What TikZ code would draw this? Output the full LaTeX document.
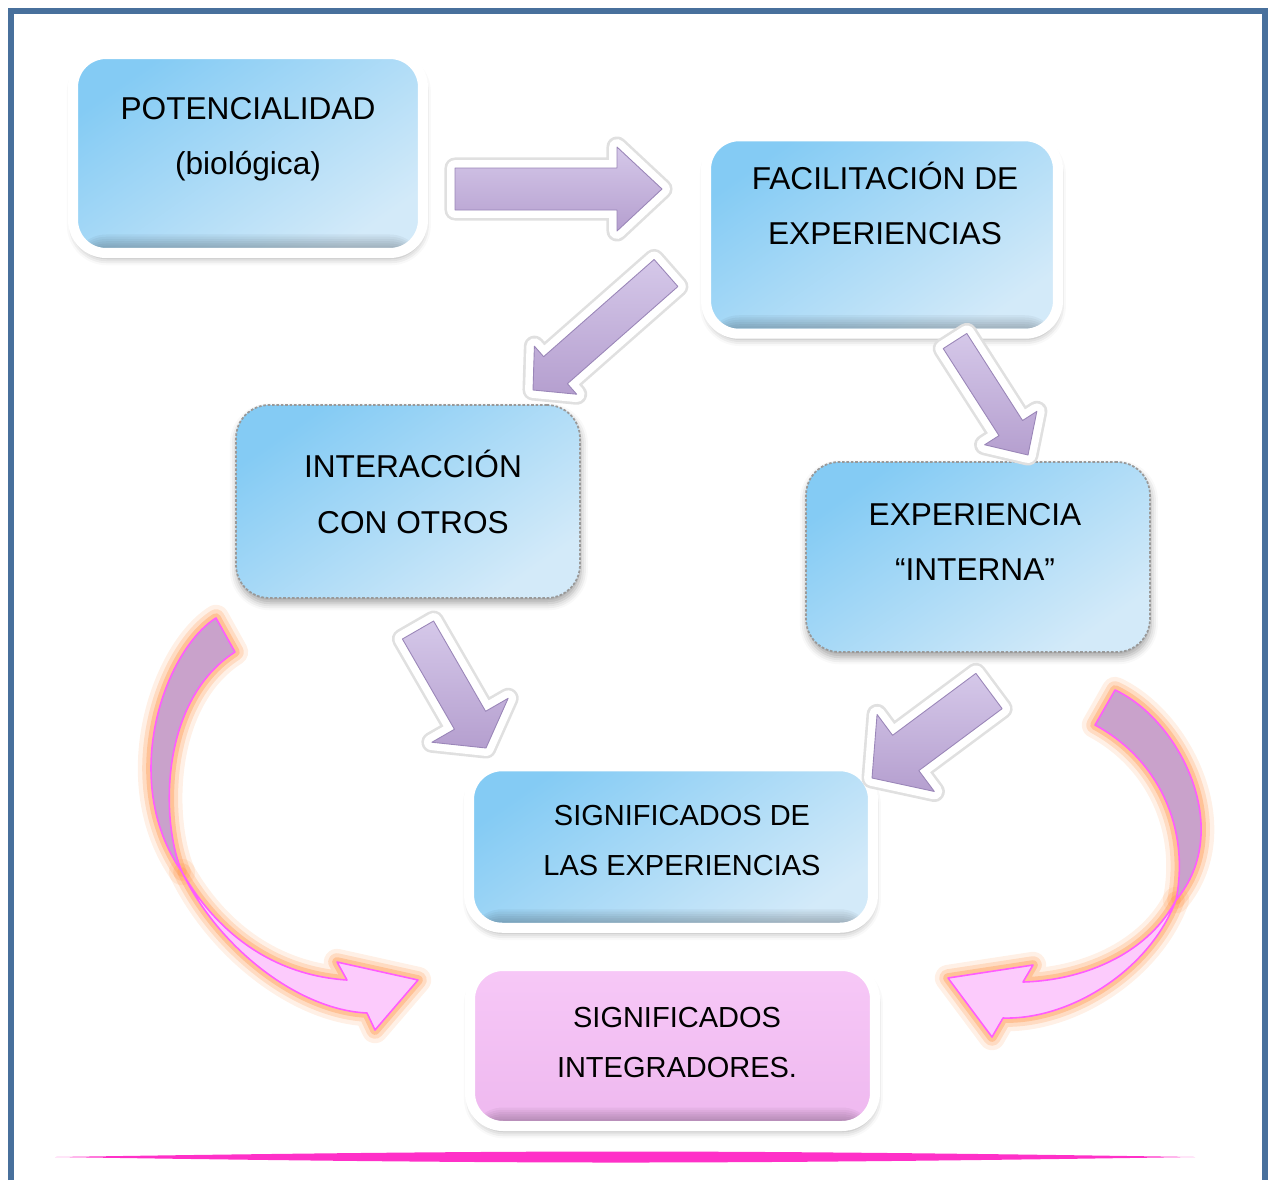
\documentclass[tikz,border=0pt]{standalone}
\usepackage{fontspec}
\setmainfont{Liberation Sans}
\usetikzlibrary{calc,shadows,shadows.blur}

\definecolor{frameblue}{HTML}{48709C}
\definecolor{boxtop}{HTML}{84CBF4}
\definecolor{boxbot}{HTML}{D3EAF9}
\definecolor{pinktop}{HTML}{F7C8F7}
\definecolor{pinkbot}{HTML}{EEB8EF}
\definecolor{lilactop}{HTML}{D5C8E9}
\definecolor{lilacbot}{HTML}{B59FCF}
\definecolor{lilacedge}{HTML}{9A86B8}
\definecolor{mauve}{HTML}{C9A2CB}
\definecolor{lightpink}{HTML}{FCCBFC}
\definecolor{ribbonedge}{HTML}{FF5CFF}
\definecolor{glowcol}{HTML}{FF9C55}
\definecolor{linepink}{HTML}{FF30C8}

% fat arrow: tail, tip, shaft half width, head half width, head length
\newcommand\fatarrow[5]{%
  \coordinate (#1b) at ($(#2)!#5!(#1)$);
  \path[fat arrow] ($(#1)!#3!90:(#2)$) -- ($(#1b)!#3!90:(#2)$)
    -- ($(#1b)!#4!90:(#2)$) -- (#2) -- ($(#1b)!#4!-90:(#2)$)
    -- ($(#1b)!#3!-90:(#2)$) -- ($(#1)!#3!-90:(#2)$) -- cycle;}

% the four pieces of the two curved ribbons
\def\lefttop{(216,618) .. controls (165,650) and (118,780) .. (182,872)
  .. controls (160,820) and (160,700) .. (235,652) -- cycle}
\def\leftlow{(182,872) .. controls (220,950) and (300,1010) .. (367,1013)
  -- (375,1030) -- (418,980) -- (337,962) -- (347,980)
  .. controls (270,975) and (215,930) .. cycle}
\def\righttop{(1115,690) .. controls (1180,720) and (1235,830) .. (1176,900)
  .. controls (1190,830) and (1160,760) .. (1095,725) -- cycle}
\def\rightlow{(1176,900) .. controls (1150,970) and (1070,1020) .. (1003,1018)
  -- (992,1037) -- (948,978) -- (1033,965) -- (1023,982)
  .. controls (1090,980) and (1150,950) .. cycle}

\begin{document}
\begin{tikzpicture}[x=0.02cm,y=-0.02cm,
  base box/.style={rectangle,rounded corners=0.66cm,inner sep=0pt,
    top color=boxtop,bottom color=boxbot,shading angle=35,
    blur shadow={shadow xshift=0.5pt,shadow yshift=-3pt,
    shadow blur radius=4pt,shadow opacity=35}},
  bevel/.style={path picture={\foreach \k in {1,...,6}
    \fill[black,opacity=.04]
      ($(path picture bounding box.south west)+(0,0.1cm)$) rectangle
      ($(path picture bounding box.south east)+(0,0.1cm+\k*0.045cm)$);}},
  frame box/.style={base box,draw=white,line width=0.2cm,bevel},
  soft box/.style={base box,draw=black!40,line width=1pt,
    dash pattern=on 1.5pt off 1pt},
  pink box/.style={frame box,top color=pinktop,bottom color=pinkbot,
    shading angle=0},
  box text/.style={align=center,inner sep=0pt,
    font=\fontsize{18}{31.5}\selectfont},
  low text/.style={box text,font=\fontsize{16.5}{28.3}\selectfont},
  fat arrow/.style={line join=round,
    preaction={draw=black!12,line width=12pt,line join=round},
    preaction={draw=white,line width=9pt,line join=round},
    top color=lilactop,bottom color=lilacbot,draw=lilacedge,line width=.5pt},
  glow/.style={line join=round,
    preaction={draw=glowcol,draw opacity=.15,line width=15pt,line join=round},
    preaction={draw=glowcol,draw opacity=.25,line width=10pt,line join=round},
    preaction={draw=glowcol,draw opacity=.4,line width=5.5pt,line join=round}},
  ribbon/.style={fill=#1,draw=ribbonedge,line width=.9pt,line join=round}]

  \useasboundingbox (0,0) rectangle (1270,1180);

  % page frame and bottom rule
  \draw[frameblue,line width=3.2pt] (11,1180) -- (11,11) -- (1265,11) -- (1265,1180);
  \fill[linepink] (55,1157) .. controls (250,1154) and (450,1151.5) .. (620,1151.5)
    .. controls (800,1151.5) and (1000,1154) .. (1195,1157)
    .. controls (1000,1160) and (800,1162.5) .. (620,1162.5)
    .. controls (450,1162.5) and (250,1160) .. cycle;

  % boxes
  \node[frame box,minimum width=7cm,minimum height=3.98cm] (pot) at (248,153.5) {};
  \node[frame box,minimum width=7.04cm,minimum height=3.95cm] (fac) at (882,235) {};
  \node[soft box,minimum width=6.88cm,minimum height=3.86cm] (inter) at (408,501.5) {};
  \node[soft box,minimum width=6.88cm,minimum height=3.8cm] (exp) at (978,557) {};
  \node[frame box,minimum width=8.08cm,minimum height=3.23cm] (sig) at (671,847) {};
  \node[pink box,minimum width=8.1cm,minimum height=3.2cm] (integ) at (672.5,1046) {};

  \node[box text] (pot-txt) at (248,139) {POTENCIALIDAD\\(biológica)};
  \node[box text] (fac-txt) at (885,203.5) {FACILITACIÓN DE\\EXPERIENCIAS};
  \node[box text] (inter-txt) at (413,492) {INTERACCIÓN\\CON OTROS};
  \node[box text] (exp-txt) at (975,542) {EXPERIENCIA\\“INTERNA”};
  \node[low text] (sig-txt) at (682,840.5) {SIGNIFICADOS DE\\LAS EXPERIENCIAS};
  \node[low text] (integ-txt) at (677,1042.5) {SIGNIFICADOS\\INTEGRADORES.};

  % block arrows
  \coordinate (p2f-t) at (455,189);  \coordinate (p2f-h) at (662,189);
  \coordinate (f2i-t) at (666,273);  \coordinate (f2i-h) at (533,390);
  \coordinate (f2e-t) at (955,341);  \coordinate (f2e-h) at (1028,455);
  \coordinate (i2s-t) at (418,630);  \coordinate (i2s-h) at (486,748);
  \coordinate (e2s-t) at (989,691);  \coordinate (e2s-h) at (872,778);
  \fatarrow{p2f-t}{p2f-h}{0.42cm}{0.84cm}{0.9cm}
  \fatarrow{f2i-t}{f2i-h}{0.36cm}{0.64cm}{0.6cm}
  \fatarrow{f2e-t}{f2e-h}{0.28cm}{0.62cm}{0.64cm}
  \fatarrow{i2s-t}{i2s-h}{0.36cm}{0.88cm}{0.64cm}
  \fatarrow{e2s-t}{e2s-h}{0.44cm}{0.96cm}{0.84cm}

  % curved ribbons: glow first, then the pieces
  \path[glow] \lefttop;  \path[glow] \leftlow;
  \path[glow] \righttop; \path[glow] \rightlow;
  \path[ribbon=mauve] \lefttop;
  \path[ribbon=lightpink] \leftlow;
  \path[ribbon=mauve] \righttop;
  \path[ribbon=lightpink] \rightlow;
\end{tikzpicture}
\end{document}
